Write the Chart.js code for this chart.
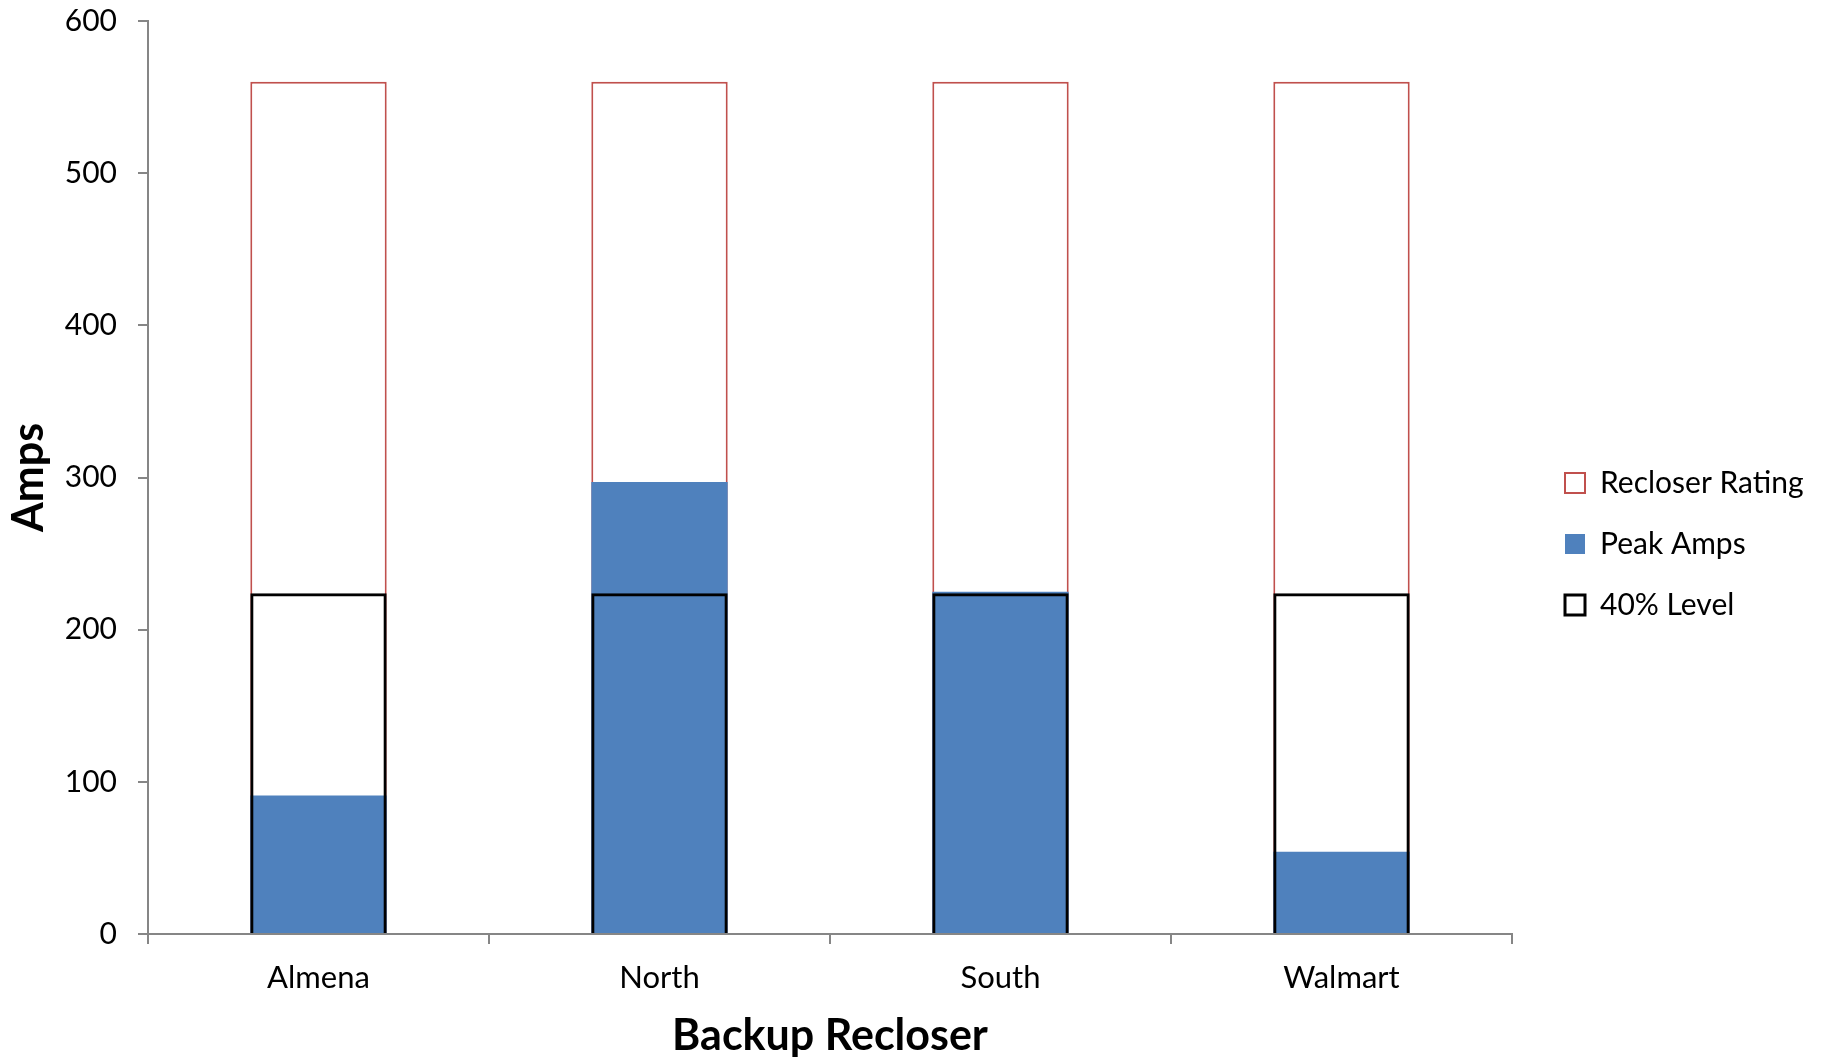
<!DOCTYPE html>
<html>
<head>
<meta charset="utf-8">
<title>Backup Recloser Loading</title>
<script src="https://cdn.jsdelivr.net/npm/chart.js@4/dist/chart.umd.min.js"></script>
<style>
  html, body { margin: 0; padding: 0; background: #ffffff; }
  #wrap { width: 1827px; height: 1060px; }
</style>
</head>
<body>
<div id="wrap"><canvas id="chart" width="1827" height="1060"></canvas></div>
<script>
// Recloser loading data (amps)
const categories = ['Almena', 'North', 'South', 'Walmart'];
const recloserRating = [560, 560, 560, 560];
const peakAmps = [91, 297, 225, 54];
const fortyPercentLevel = [224, 224, 224, 224];
const yTicks = [0, 100, 200, 300, 400, 500, 600];

const FONT = 'Lato, "Open Sans", "DejaVu Sans", sans-serif';
const AXIS_GREY = '#868686';

// Keeps the legend column at a fixed width and nudges it away from the plot
const legendPlacement = {
  id: 'legendPlacement',
  afterInit(chart) {
    const legend = chart.legend;
    const fit = legend.fit;
    legend.fit = function () {
      fit.call(this);
      this.width = 315;
    };
  },
  afterLayout(chart) {
    chart.legend.left += 22;
    chart.legend.right += 22;
    chart.legend.top += 12;
    chart.legend.bottom += 12;
  }
};

new Chart(document.getElementById('chart'), {
  type: 'bar',
  data: {
    labels: categories,
    datasets: [
      {
        label: 'Recloser Rating',
        data: recloserRating,
        backgroundColor: '#ffffff',
        borderColor: '#C0504D',
        borderWidth: 2,
        order: 3
      },
      {
        label: 'Peak Amps',
        data: peakAmps,
        backgroundColor: '#4F81BD',
        borderWidth: 0,
        order: 2
      },
      {
        label: '40% Level',
        data: fortyPercentLevel,
        backgroundColor: 'rgba(255,255,255,0)',
        borderColor: '#000000',
        borderWidth: 3,
        order: 1
      }
    ]
  },
  options: {
    responsive: false,
    animation: false,
    grouped: false,
    barPercentage: 0.4,
    categoryPercentage: 1.0,
    layout: { autoPadding: false, padding: { top: 4, right: 0, bottom: 0, left: 0 } },
    plugins: {
      tooltip: { enabled: false },
      legend: {
        position: 'right',
        align: 'center',
        labels: {
          font: { family: FONT, size: 30 },
          color: '#000000',
          boxWidth: 20,
          boxHeight: 20,
          padding: 31,
          sort: (a, b) => a.datasetIndex - b.datasetIndex
        }
      }
    },
    scales: {
      x: {
        grid: {
          display: true,
          drawOnChartArea: false,
          drawTicks: true,
          tickLength: 10,
          color: AXIS_GREY,
          lineWidth: 2
        },
        border: { display: true, color: AXIS_GREY, width: 2 },
        ticks: {
          font: { family: FONT, size: 31 },
          color: '#000000',
          padding: 15
        },
        title: {
          display: true,
          text: 'Backup Recloser',
          font: { family: FONT, size: 43, weight: 'bold', lineHeight: 1.1 },
          color: '#000000',
          padding: { top: 0, bottom: 0 }
        },
        afterFit(scale) { scale.height = 126; }
      },
      y: {
        min: 0,
        max: 600,
        afterBuildTicks(scale) { scale.ticks = yTicks.map(v => ({ value: v })); },
        grid: {
          display: true,
          drawOnChartArea: false,
          drawTicks: true,
          tickLength: 10,
          color: AXIS_GREY,
          lineWidth: 2
        },
        border: { display: true, color: AXIS_GREY, width: 2 },
        ticks: {
          font: { family: FONT, size: 30 },
          color: '#000000',
          padding: 21
        },
        title: {
          display: true,
          text: 'Amps',
          font: { family: FONT, size: 43, weight: 'bold' },
          color: '#000000',
          padding: { top: 3, bottom: 0 }
        },
        afterFit(scale) {
          scale.width = 148;
          scale.paddingTop = 21;
          scale.paddingBottom = 0;
        }
      }
    }
  },
  plugins: [legendPlacement]
});
</script>
</body>
</html>
